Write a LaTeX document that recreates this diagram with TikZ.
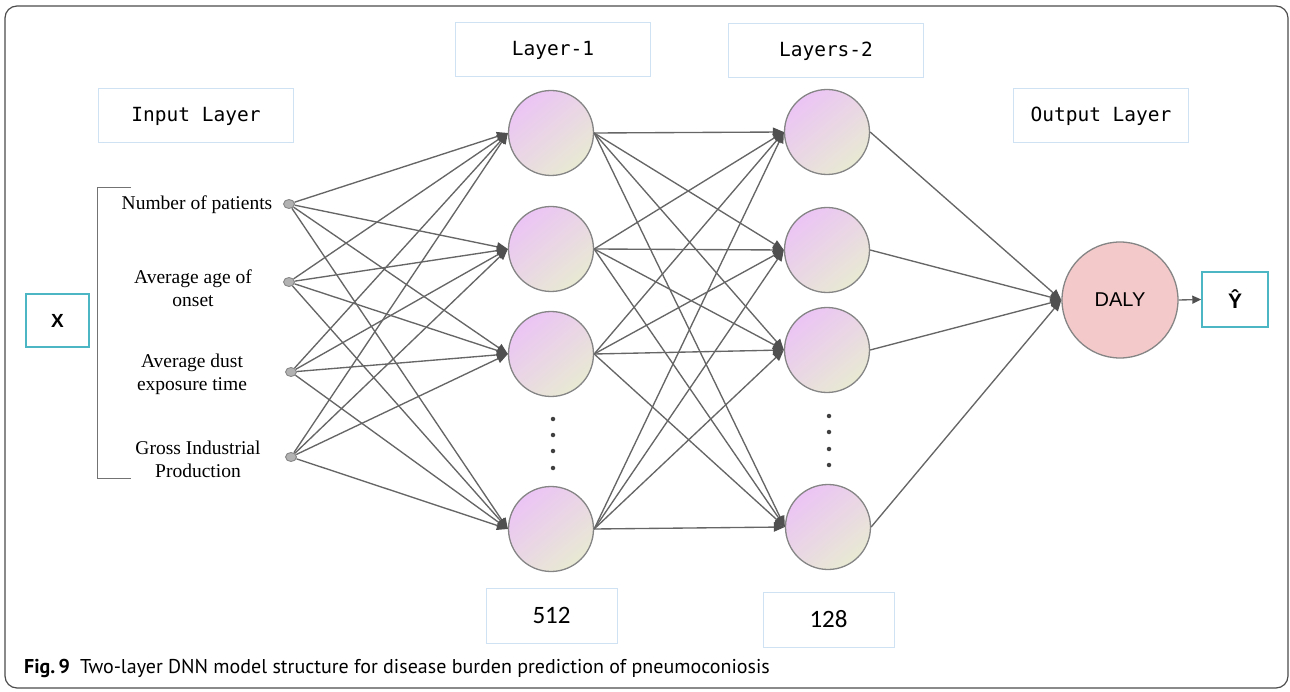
\documentclass[tikz,border=0pt]{standalone}
\usepackage{fontspec}
\setmainfont{Liberation Serif}
\newfontfamily\monof{DejaVu Sans Mono}
\newfontfamily\arialf{Liberation Sans}
\newfontfamily\calf{Carlito}
\newfontfamily\capf{PT Sans}
\usetikzlibrary{arrows.meta,shapes.geometric}
\definecolor{edgec}{HTML}{666666}
\definecolor{tipc}{HTML}{505050}
\definecolor{lblue}{HTML}{CFE2F3}
\definecolor{tealc}{HTML}{4DB6C4}
\definecolor{nbord}{HTML}{858585}
\definecolor{npink}{HTML}{EBC4F5}
\definecolor{nmid}{HTML}{EACFEA}
\definecolor{nbeige}{HTML}{E8EAD3}
\definecolor{dalyc}{HTML}{F4C9CA}
\begin{document}
\begin{tikzpicture}[x=1pt,y=-1pt,
  titlebox/.style={draw=lblue,line width=1pt,minimum width=195pt,minimum height=54pt,inner sep=0pt,font=\monof\fontsize{19.5}{22}\selectfont},
  numbox/.style={draw=lblue,line width=1pt,minimum width=131pt,minimum height=55pt,inner sep=0pt,font=\calf\fontsize{25}{28}\selectfont},
  tealbox/.style={draw=tealc,line width=1.4pt,inner sep=0pt,font=\arialf\bfseries\fontsize{19}{20}\selectfont},
  neuron/.style={circle,draw=nbord,line width=1.3pt,minimum size=85pt,inner sep=0pt,top color=npink,middle color=nmid,bottom color=nbeige,shading angle=40},
  indot/.style={ellipse,draw=nbord,fill=gray!60,line width=0.9pt,minimum width=11pt,minimum height=9pt,inner sep=0pt},
  inlabel/.style={align=center,font=\fontsize{19.5}{23}\selectfont},
  conn/.style={draw=edgec,line width=1.35pt,-{Triangle[length=11pt,width=9pt,fill=tipc,color=tipc]}},
  vdot/.style={circle,fill=black!75,minimum size=4.5pt,inner sep=0pt}
]
\useasboundingbox (0,0) rectangle (1290,692);
\draw[color=black!70,line width=1.2pt,rounded corners=12pt] (5,6) rectangle (1288,688);

% title boxes
\node[titlebox] (tin) at (196,116) {Input Layer};
\node[titlebox] (tl1) at (553,50) {Layer-1};
\node[titlebox] (tl2) at (826,51) {Layers-2};
\node[titlebox,minimum width=175pt] (tout) at (1101,116) {Output Layer};

% X box and bracket
\node[tealbox,minimum width=63pt,minimum height=53pt] (xbox) at (57.5,320.5) {X};
\draw[color=black!55,line width=1pt] (131,188) -- (97,188) -- (97,478) -- (131,478);

% input labels and dots
\node[inlabel] (l1) at (197,205) {Number of patients};
\node[inlabel] (l2) at (193,288) {Average age of\\onset};
\node[inlabel] (l3) at (192,374) {Average dust\\exposure time};
\node[inlabel] (l4) at (198,459) {Gross Industrial\\Production};
\node[indot] (in1) at (289,204) {};
\node[indot] (in2) at (289,282) {};
\node[indot] (in3) at (291,372) {};
\node[indot] (in4) at (291,457) {};

% layer 1
\node[neuron] (a1) at (551,133) {};
\node[neuron] (a2) at (551,249) {};
\node[neuron] (a3) at (551,354) {};
\node[neuron] (a4) at (551,529) {};
% layer 2
\node[neuron] (b1) at (827,132) {};
\node[neuron] (b2) at (827,250) {};
\node[neuron] (b3) at (827,350) {};
\node[neuron] (b4) at (828,527) {};

% vertical dots
\foreach \y [count=\k] in {419,435,451,468} \node[vdot] (da\k) at (553,\y) {};
\foreach \y [count=\k] in {416,432,449,465} \node[vdot] (db\k) at (829,\y) {};

% output
\node[circle,draw=nbord,line width=1.3pt,fill=dalyc,minimum size=116pt,inner sep=0pt,font=\arialf\fontsize{20}{22}\selectfont] (daly) at (1120,300) {DALY};
\node[tealbox,minimum width=66pt,minimum height=55pt,font=\arialf\bfseries\fontsize{21}{22}\selectfont] (yhat) at (1235,299.5) {Ŷ};

% number boxes
\node[numbox] (n512) at (551.5,615.5) {512};
\node[numbox] (n128) at (828.5,619.5) {128};

% connections
\foreach \i in {1,...,4}
  \foreach \j in {1,...,4}
    \draw[conn] (in\i) -- (a\j.west);
\foreach \i in {1,...,4}
  \foreach \j in {1,...,4}
    \draw[conn] (a\i.east) -- (b\j.west);
\foreach \i in {1,...,4}
  \draw[conn] (b\i.east) -- (daly.west);
\draw[conn,-{Triangle[length=9pt,width=8pt,fill=tipc,color=tipc]}] (daly.east) -- (yhat.west);

% caption
\node[anchor=base west,inner sep=0pt,font=\capf\fontsize{20}{22}\selectfont] (cap) at (24,673) {{\bfseries Fig.\,9}\hspace{10pt}Two-layer DNN model structure for disease burden prediction of pneumoconiosis};
\end{tikzpicture}
\end{document}
